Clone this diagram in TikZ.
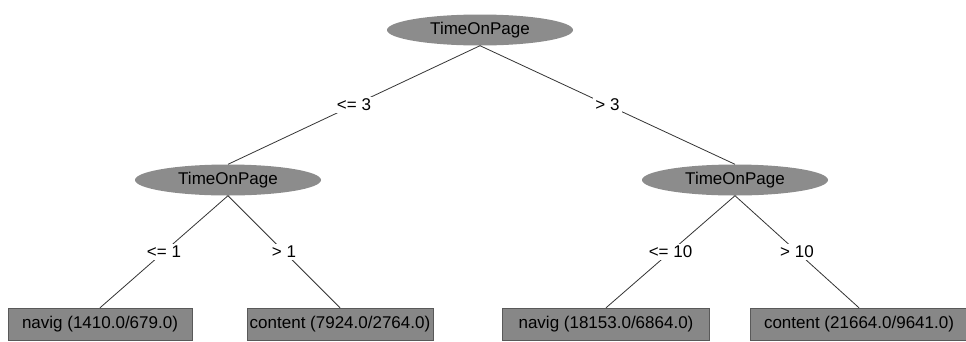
\documentclass[tikz,border=0pt]{standalone}
\usepackage{fontspec}
\setmainfont{Liberation Sans}
\usetikzlibrary{shapes.geometric, positioning}

\begin{document}
\begin{tikzpicture}[
  x=1pt, y=-1pt,
  font=\fontsize{17}{20}\selectfont,
  split/.style={ellipse, fill=black!45, minimum width=186pt, minimum height=31pt, inner sep=0pt},
  leaf/.style={rectangle, fill=black!47, draw=black!65, minimum height=32pt, inner xsep=3pt},
  edge/.style={draw=black!80, line width=0.8pt},
  cond/.style={fill=white, inner sep=2pt}
]
  \useasboundingbox (0,0) rectangle (966,341);

  \node [split] (root) at (480,30) {TimeOnPage};
  \node [split] (lowtime) at (228,180) {TimeOnPage};
  \node [split] (hightime) at (735,180) {TimeOnPage};

  \node [leaf, minimum width=184pt] (navigA) at (100,324) {navig (1410.0/679.0)};
  \node [leaf, minimum width=184pt] (contentA) at (340,324) {content (7924.0/2764.0)};
  \node [leaf, minimum width=207pt] (navigB) at (606,324) {navig (18153.0/6864.0)};
  \node [leaf, minimum width=218pt] (contentB) at (859,324) {content (21664.0/9641.0)};

  \draw [edge] (root.south) -- node[cond] {<= 3} (lowtime.north);
  \draw [edge] (root.south) -- node[cond] {> 3} (hightime.north);
  \draw [edge] (lowtime.south) -- node[cond] {<= 1} (navigA.north);
  \draw [edge] (lowtime.south) -- node[cond] {> 1} (contentA.north);
  \draw [edge] (hightime.south) -- node[cond] {<= 10} (navigB.north);
  \draw [edge] (hightime.south) -- node[cond] {> 10} (contentB.north);
\end{tikzpicture}
\end{document}
